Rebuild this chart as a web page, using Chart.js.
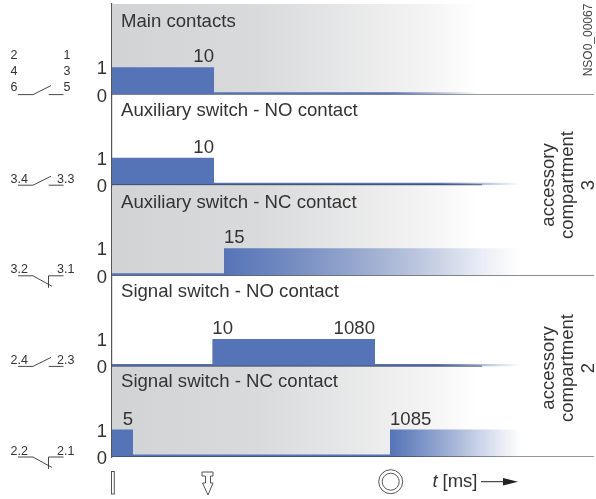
<!DOCTYPE html>
<html>
<head>
<meta charset="utf-8">
<style>
  html, body { margin: 0; padding: 0; background: #fff; }
  canvas { display: block; }
</style>
<script src="https://cdn.jsdelivr.net/npm/chart.js@4"></script>
</head>
<body>
<canvas id="timingChart" width="596" height="499"></canvas>
<script>
// --- Data (times in ms, state 1 = on, low state drawn as the thin strip) ---
const panelTitles = ['Main contacts', 'Auxiliary switch - NO contact', 'Auxiliary switch - NC contact', 'Signal switch - NO contact', 'Signal switch - NC contact'];
const mainTimes = [0, 10, 1480];
const mainStates = [1, 0.09, 0.09];
const auxNoTimes = [0, 10, 1668];
const auxNoStates = [1, 0.09, 0.09];
const auxNcTimes = [0, 15, 1668];
const auxNcStates = [0.09, 1, 1];
const sigNoTimes = [0, 9.9, 1080, 1668];
const sigNoStates = [0.09, 1, 0.09, 0.09];
const sigNcTimes = [0, 5, 1085, 1668];
const sigNcStates = [1, 0.09, 1, 1];
const levelTicks = [0, 1];
const shadedPanels = [true, false, true, false, true];
const baselineEnds = [2000, 1498, 2000, 1498, 2000];
const shadeEnd = 1480;
const edgeLabels = [['10'], ['10'], ['15'], ['10', '1080'], ['5', '1085']];
const edgeTimes = [[10], [10], [15], [9.9, 1080], [5, 1085]];
const edgeAligns = [['right'], ['right'], ['left'], ['left', 'right'], ['right', 'left']];

const FONT = '"Liberation Sans", Arial, sans-serif';
const TEXT = '#333333';
const BLUE = '#5574b8';

// Time axis is schematic: not to scale between the marked times
const axisTimes = [0, 5, 10, 15, 1080, 1085, 2000];
const axisFractions = [0, 0.0436, 0.2116, 0.2324, 0.5456, 0.5768, 1];

class BrokenTimeScale extends Chart.LinearScale {
  getPixelForValue(value) {
    for (let i = 1; i < axisTimes.length; i++) {
      if (value <= axisTimes[i]) {
        const f = (value - axisTimes[i - 1]) / (axisTimes[i] - axisTimes[i - 1]);
        return this.getPixelForDecimal(axisFractions[i - 1] + f * (axisFractions[i] - axisFractions[i - 1]));
      }
    }
    return this.getPixelForDecimal(1);
  }
}
BrokenTimeScale.id = 'brokenTime';
BrokenTimeScale.defaults = Chart.LinearScale.defaults;
Chart.register(BrokenTimeScale);

const toPoints = (times, values) => times.map((t, i) => ({ x: t, y: values[i] }));

// Horizontal gradient between two times
const fadeFill = (fromTime, toTime, stops) => (context) => {
  const chart = context.chart;
  if (!chart.chartArea) return BLUE;
  const x = chart.scales.x;
  const g = chart.ctx.createLinearGradient(x.getPixelForValue(fromTime), 0, x.getPixelForValue(toTime), 0);
  stops.forEach(s => g.addColorStop(s[0], s[1]));
  return g;
};

const blueFade = [[0, BLUE], [1, 'rgba(85,116,184,0)']];
const greyFade = [[0, '#d2d3d5'], [0.4, '#d9dadc'], [0.85, '#f3f3f3'], [1, '#ffffff']];

const bands = [
  { times: mainTimes, states: mainStates, from: 1090, to: shadeEnd },
  { times: auxNoTimes, states: auxNoStates, from: 1300, to: 1668 },
  { times: auxNcTimes, states: auxNcStates, from: 15, to: 1668 },
  { times: sigNoTimes, states: sigNoStates, from: 1300, to: 1668 },
  { times: sigNcTimes, states: sigNcStates, from: 1085, to: 1668 }
];

const datasets = [];
const scales = {
  x: { type: 'brokenTime', min: 0, max: 2000, display: false }
};

bands.forEach((band, i) => {
  const yAxisID = 'y' + i;
  if (shadedPanels[i]) {
    datasets.push({
      xAxisID: 'x', yAxisID, order: 3, stepped: false, borderWidth: 0, pointRadius: 0, fill: 'origin',
      data: toPoints([0, shadeEnd], [3.3, 3.3]),
      backgroundColor: fadeFill(0, shadeEnd, greyFade)
    });
  }
  datasets.push({
    xAxisID: 'x', yAxisID, order: 2, stepped: true, borderWidth: 0, pointRadius: 0, fill: 'origin',
    data: toPoints(band.times, band.states),
    backgroundColor: fadeFill(band.from, band.to, blueFade)
  });
  datasets.push({
    xAxisID: 'x', yAxisID, order: 1, borderWidth: 1.2, borderColor: '#33353a', pointRadius: 0, fill: false,
    data: toPoints([0, baselineEnds[i]], [0, 0])
  });
});

// stacked axes are laid out bottom-up, so the last panel goes in first
for (let i = bands.length - 1; i >= 0; i--) {
  scales['y' + i] = {
    type: 'linear', position: 'left', stack: 'panels', stackWeight: 1, min: 0, max: 3.3,
    border: { display: true, color: '#55575c', width: 1.2 },
    grid: { display: false, drawTicks: false },
    afterFit: (axis) => { axis.width = 112; axis.paddingTop = 0; axis.paddingBottom = 0; },
    afterBuildTicks: (axis) => { axis.ticks = levelTicks.map(v => ({ value: v })); },
    ticks: { padding: 5, labelOffset: 2, color: TEXT, font: { family: FONT, size: 18.5 }, callback: (v) => String(v) }
  };
}

// --- Everything around the plot that the library has no element for ---
const drawNo = (ctx, y) => {
  ctx.beginPath();
  ctx.moveTo(18, y); ctx.lineTo(33, y); ctx.lineTo(51, y - 9);
  ctx.moveTo(48.7, y); ctx.lineTo(63.5, y);
  ctx.stroke();
};
const drawNc = (ctx, y) => {
  ctx.beginPath();
  ctx.moveTo(18, y); ctx.lineTo(33, y); ctx.lineTo(52, y + 10.5);
  ctx.moveTo(48.5, y + 12); ctx.lineTo(48.5, y); ctx.lineTo(63.5, y);
  ctx.stroke();
};

const switchLabels = [null, ['3.4', '3.3'], ['3.2', '3.1'], ['2.4', '2.3'], ['2.2', '2.1']];
const titleDrops = [23, 21.5, 23, 21.5, 21];

const annotations = {
  id: 'annotations',
  afterDraw(chart) {
    const ctx = chart.ctx;
    const x = chart.scales.x;
    ctx.save();
    ctx.fillStyle = TEXT;
    ctx.textBaseline = 'alphabetic';

    panelTitles.forEach((title, i) => {
      const y = chart.scales['y' + i];
      const base = y.getPixelForValue(0);
      const one = y.getPixelForValue(1);

      ctx.font = '18.6px ' + FONT;
      ctx.textAlign = 'left';
      ctx.fillText(title, 121, y.top + titleDrops[i]);

      edgeLabels[i].forEach((label, j) => {
        ctx.textAlign = edgeAligns[i][j];
        ctx.fillText(label, x.getPixelForValue(edgeTimes[i][j]), one - 5);
      });

      // contact symbols
      ctx.strokeStyle = '#333';
      ctx.lineWidth = 0.9;
      ctx.font = '12.5px ' + FONT;
      ctx.textAlign = 'left';
      if (i === 0) {
        drawNo(ctx, base);
        [['2', '1', 36], ['4', '3', 20], ['6', '5', 4]].forEach(r => {
          ctx.fillText(r[0], 10.5, base - r[2]);
          ctx.fillText(r[1], 63.5, base - r[2]);
        });
      } else {
        if (i % 2) drawNo(ctx, base); else drawNc(ctx, base);
        ctx.fillText(switchLabels[i][0], 10.5, base - 2.5);
        ctx.fillText(switchLabels[i][1], 57, base - 2.5);
      }
    });

    // right hand side captions
    const rotated = (text, px, py, font) => {
      ctx.save();
      ctx.translate(px, py);
      ctx.rotate(-Math.PI / 2);
      ctx.textAlign = 'center';
      ctx.font = font;
      ctx.fillText(text, 0, 0);
      ctx.restore();
    };
    const side = '18.5px ' + FONT;
    rotated('accessory', 554, 185, side);
    rotated('compartment', 573, 185, side);
    rotated('3', 594, 185, side);
    rotated('accessory', 554, 368, side);
    rotated('compartment', 573, 368, side);
    rotated('2', 594, 368, side);
    ctx.fillStyle = '#444';
    rotated('NSO0_00067', 592, 40, '12px ' + FONT);

    // bottom strip: release icons and time arrow
    ctx.strokeStyle = '#555';
    ctx.lineWidth = 1;
    ctx.strokeRect(111.5, 471.5, 2.8, 22.5);
    ctx.beginPath();
    [[202, 472], [213, 472], [213, 476], [210.5, 476], [210.5, 483], [213, 483], [208, 495], [202.5, 483], [205.5, 483], [205.5, 476], [202, 476]]
      .forEach((p, i) => { if (i) ctx.lineTo(p[0], p[1]); else ctx.moveTo(p[0], p[1]); });
    ctx.closePath();
    ctx.stroke();
    ctx.beginPath(); ctx.arc(390.7, 481.7, 12, 0, Math.PI * 2); ctx.stroke();
    ctx.beginPath(); ctx.arc(390.7, 481.7, 8.5, 0, Math.PI * 2); ctx.stroke();

    ctx.fillStyle = TEXT;
    ctx.textAlign = 'left';
    ctx.font = 'italic 18.5px ' + FONT;
    ctx.fillText('t', 432.5, 487);
    ctx.font = '18.5px ' + FONT;
    ctx.fillText('[ms]', 442.5, 487);
    ctx.strokeStyle = '#222';
    ctx.beginPath(); ctx.moveTo(481, 481.7); ctx.lineTo(505, 481.7); ctx.stroke();
    ctx.fillStyle = '#222';
    ctx.beginPath(); ctx.moveTo(503, 478); ctx.lineTo(518, 481.7); ctx.lineTo(503, 485.4); ctx.closePath(); ctx.fill();
    ctx.restore();
  }
};

new Chart(document.getElementById('timingChart'), {
  type: 'line',
  data: { datasets },
  options: {
    responsive: false,
    animation: false,
    layout: { padding: { left: 0, right: 2, top: 4, bottom: 42 } },
    plugins: { legend: { display: false }, tooltip: { enabled: false } },
    scales
  },
  plugins: [annotations]
});
</script>
</body>
</html>
